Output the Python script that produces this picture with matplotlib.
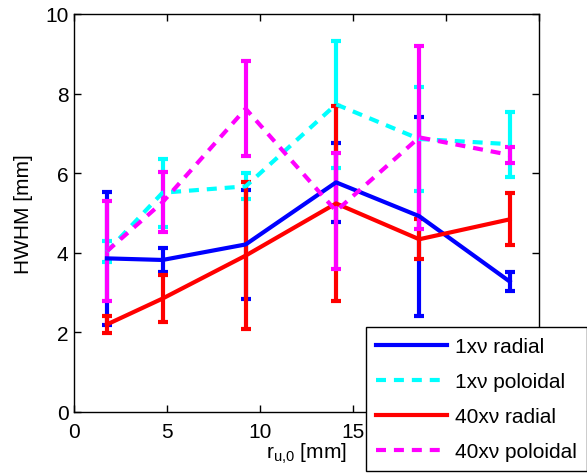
import matplotlib
matplotlib.use("Agg")
import matplotlib.pyplot as plt
from matplotlib.lines import Line2D

plt.rcParams['font.family'] = ['Liberation Sans', 'DejaVu Sans']

x = [1.77, 4.76, 9.23, 14.09, 18.56, 23.42]

rad1_y = [3.86, 3.82, 4.21, 5.77, 4.92, 3.28]
rad1_e = [1.67, 0.31, 1.36, 1.00, 2.50, 0.23]

pol1_y = [4.03, 5.51, 5.67, 7.73, 6.86, 6.73]
pol1_e = [0.27, 0.85, 0.33, 1.60, 1.31, 0.82]

rad40_y = [2.20, 2.85, 3.93, 5.24, 4.34, 4.84]
rad40_e = [0.21, 0.60, 1.85, 2.46, 0.50, 0.65]

pol40_y = [4.04, 5.27, 7.62, 5.05, 6.90, 6.46]
pol40_e = [1.25, 0.75, 1.19, 1.46, 2.29, 0.21]

xticks = [0, 5, 10, 15, 20, 25]
xticklabels = ['0', '5', '10', '15', '', '']  # 20 and 25 are hidden behind the legend
yticks = [0, 2, 4, 6, 8, 10]

labels = ['1x\u03bd radial', '1x\u03bd poloidal', '40x\u03bd radial', '40x\u03bd poloidal']
colors = ['#0000ff', '#00ffff', '#ff0000', '#ff00ff']
styles = ['-', (0, (2.4, 1.9)), '-', (0, (2.4, 1.9))]

fig = plt.figure(figsize=(5.87, 4.77), dpi=100)
ax = fig.add_axes([74/587, 1-413/477, (539-74)/587, (413-15)/477])

series = [(rad1_y, rad1_e), (pol1_y, pol1_e), (rad40_y, rad40_e), (pol40_y, pol40_e)]
handles = []
for (yv, ev), c, ls, lab in zip(series, colors, styles, labels):
    eb = ax.errorbar(x, yv, yerr=ev, color=c, lw=3, elinewidth=3, capsize=3.5, capthick=3)
    eb[0].set_linestyle(ls)
    handles.append(Line2D([], [], color=c, lw=3, linestyle=ls))

ax.set_xlim(0, 25)
ax.set_ylim(0, 10)
ax.set_xticks(xticks)
ax.set_xticklabels(xticklabels)
ax.set_yticks(yticks)
ax.tick_params(direction='in', top=True, right=True, labelsize=15, length=5, width=1)
ax.tick_params(axis='x', pad=7)
ax.tick_params(axis='y', pad=4)
for s in ax.spines.values():
    s.set_linewidth(1)
ax.set_xlabel('r$_{\\mathregular{u{,}0}}$ [mm]', fontsize=15, labelpad=0)
ax.set_ylabel('HWHM [mm]', fontsize=15, labelpad=9)

leg = ax.legend(handles, labels, loc='upper left', bbox_to_anchor=(366/587, 1-328/477),
                bbox_transform=fig.transFigure, borderaxespad=0, fontsize=15,
                handlelength=3.4, handletextpad=0.35, labelspacing=0.76,
                borderpad=0.5, fancybox=False, framealpha=1, edgecolor='black')
leg.get_frame().set_linewidth(1)

fig.savefig('out.png', dpi=100)
